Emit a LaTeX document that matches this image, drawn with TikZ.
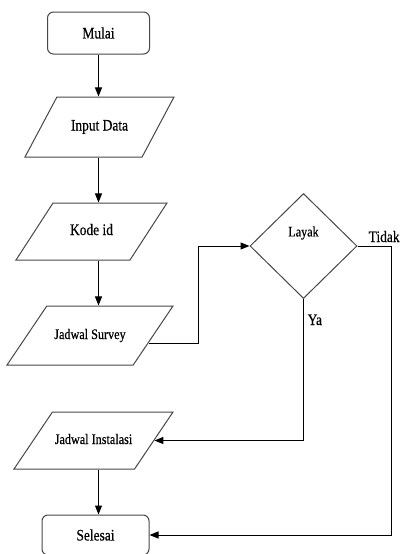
\documentclass[tikz,border=0pt]{standalone}
\usepackage{fontspec}
\setmainfont{Liberation Serif}
\newfontfamily\flowfont{Liberation Serif}[FakeStretch=0.84,FakeBold=0.4]
\usetikzlibrary{shapes.geometric,arrows.meta,calc}

\begin{document}
\begin{tikzpicture}[x=1pt,y=-1pt,
  outline/.style={draw=black!72, line width=1pt, fill=white},
  bigtext/.style={font=\flowfont\fontsize{16}{18}\selectfont},
  smalltext/.style={font=\flowfont\fontsize{14.5}{17}\selectfont},
  terminal/.style={outline, rounded corners=6pt, minimum width=102pt,
    minimum height=42pt, inner sep=0pt},
  % parallelogram: height = 15pt of text box + 2 * inner ysep
  iobox/.style={outline, trapezium, trapezium stretches body,
    text height=11pt, text depth=4pt, inner xsep=0pt},
  decision/.style={outline, diamond, minimum width=107pt,
    minimum height=105pt, inner sep=0pt},
  flow/.style={-{Triangle[length=9pt,width=7pt]}, line width=1pt, black},
  tag/.style={bigtext, anchor=base west, inner sep=0pt}]

\useasboundingbox (0,0) rectangle (402,554);

% main column
\node[terminal, bigtext] (mulai) at (98.5,33) {Mulai};
\node[iobox, bigtext, trapezium left angle=62, trapezium right angle=118,
  minimum width=149pt, inner ysep=22.5pt] (input) at (99.5,127) {Input Data};
\node[iobox, bigtext, trapezium left angle=57, trapezium right angle=123,
  minimum width=151pt, inner ysep=21pt] (kode) at (91.5,231.5) {Kode id};
\node[iobox, smalltext, trapezium left angle=56, trapezium right angle=124,
  minimum width=166pt, inner ysep=22pt] (survey) at (90,335.5) {Jadwal Survey};
\node[iobox, smalltext, trapezium left angle=56, trapezium right angle=124,
  minimum width=159pt, inner ysep=21pt] (instalasi) at (93.5,440.5) {Jadwal Instalasi};
\node[terminal, bigtext, minimum width=107pt, minimum height=40pt] (selesai)
  at (95.5,535) {Selesai};

% decision
\node[decision, label={[smalltext, yshift=13pt, name=layaklabel]center:Layak}]
  (layak) at (303.5,246) {};

% vertical flow
\draw[flow] (mulai.south) -- (mulai.south |- input.north);
\draw[flow] (input.south -| mulai.south) -- (kode.north -| mulai.south);
\draw[flow] (kode.south -| mulai.south) -- (survey.north -| mulai.south);
\draw[flow] (instalasi.south -| mulai.south) -- (selesai.north -| mulai.south);

% survey schedule into the decision
\coordinate (svout) at ($(survey.east)+(-4.5,7.5)$);
\draw[flow] (svout) -| ($(layak.west)+(-51,0)$) -- (layak.west);

% branches
\draw[flow] (layak.east) -- ++(34,0) |- (selesai.east);
\node[tag] (tidak) at ($(layak.east)+(11,-4)$) {Tidak};
\draw[flow] (layak.south) |- (instalasi.east);
\node[tag] (ya) at ($(layak.south)+(4,26)$) {Ya};
\end{tikzpicture}
\end{document}
